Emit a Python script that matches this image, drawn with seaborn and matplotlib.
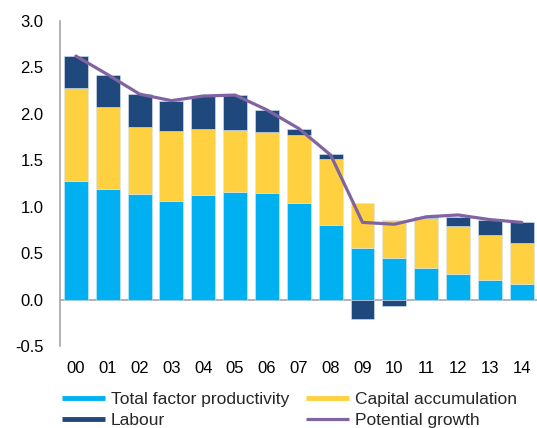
import numpy as np
import pandas as pd
import matplotlib
matplotlib.use('Agg')
import matplotlib.pyplot as plt
import seaborn as sns
from matplotlib.lines import Line2D

# Data
years = ['00', '01', '02', '03', '04', '05', '06', '07', '08', '09', '10', '11', '12', '13', '14']
tfp = [1.28, 1.19, 1.14, 1.055, 1.12, 1.16, 1.15, 1.04, 0.80, 0.55, 0.445, 0.335, 0.27, 0.21, 0.167]
capital = [1.00, 0.88, 0.72, 0.755, 0.72, 0.665, 0.65, 0.725, 0.71, 0.49, 0.415, 0.545, 0.52, 0.48, 0.443]
labour = [0.34, 0.35, 0.35, 0.33, 0.345, 0.375, 0.24, 0.075, 0.06, -0.21, -0.065, 0.01, 0.10, 0.165, 0.22]
potential = [2.62, 2.42, 2.21, 2.14, 2.19, 2.20, 2.04, 1.84, 1.555, 0.83, 0.81, 0.89, 0.91, 0.86, 0.83]

df = pd.DataFrame({'year': years, 'tfp': tfp, 'capital': capital,
                   'labour': labour, 'potential': potential})
df['cap_bottom'] = df['tfp']
df['lab_bottom'] = np.where(df['labour'] >= 0, df['tfp'] + df['capital'], 0)

c_tfp = '#00B0F0'
c_cap = '#FFD03F'
c_lab = '#1F497D'
c_pot = '#8064A2'

sns.set_theme(style='white')
plt.rcParams['font.family'] = ['Liberation Sans', 'DejaVu Sans']

fig = plt.figure(figsize=(5.37, 4.28), dpi=100)
ax = fig.add_axes([0.1117, 0.1916, 0.8883, 0.76])

bar_kw = dict(width=0.75, edgecolor='#d6e6f2', linewidth=0.4)
sns.barplot(data=df, x='year', y='tfp', color=c_tfp, saturation=1, ax=ax, **bar_kw)
sns.barplot(data=df, x='year', y='capital', bottom=df['cap_bottom'], color=c_cap,
            saturation=1, ax=ax, **bar_kw)
sns.barplot(data=df, x='year', y='labour', bottom=df['lab_bottom'], color=c_lab,
            saturation=1, ax=ax, **bar_kw)
sns.lineplot(x=np.arange(len(years)), y=df['potential'], color=c_pot, linewidth=2.3, ax=ax)

ax.axhline(0, color='#A6A6A6', linewidth=1.2, zorder=0.5)
ax.set_xlim(-0.5, 14.48)
ax.set_ylim(-0.5, 3.0)
ax.set_yticks(np.arange(-0.5, 3.01, 0.5))
ax.set_yticklabels([f'{v:.1f}' for v in np.arange(-0.5, 3.01, 0.5)])
ax.set_xlabel('')
ax.set_ylabel('')
ax.tick_params(axis='both', length=0, labelsize=12, colors='black')
ax.tick_params(axis='x', pad=11)
ax.tick_params(axis='y', pad=12)

sns.despine(ax=ax, top=True, right=True, bottom=True)
ax.spines['left'].set_color('#A6A6A6')
ax.spines['left'].set_linewidth(1.2)

handles = [
    Line2D([], [], color=c_tfp, linewidth=3.5, solid_capstyle='butt'),
    Line2D([], [], color=c_cap, linewidth=3.5, solid_capstyle='butt'),
    Line2D([], [], color=c_lab, linewidth=3.5, solid_capstyle='butt'),
    Line2D([], [], color=c_pot, linewidth=2.3, solid_capstyle='butt'),
]
labels = ['Total factor productivity', 'Capital accumulation', 'Labour', 'Potential growth']
# order so that columns read TFP/Labour then Capital/Potential
order = [0, 2, 1, 3]
fig.legend([handles[i] for i in order], [labels[i] for i in order], ncol=2,
           loc='lower left', bbox_to_anchor=(0.1155, 0.0), frameon=False,
           fontsize=12.5, handlelength=2.45, handletextpad=0.35, columnspacing=1.0,
           labelspacing=0.32, borderpad=0, borderaxespad=0)

fig.savefig('out.png', dpi=100)
